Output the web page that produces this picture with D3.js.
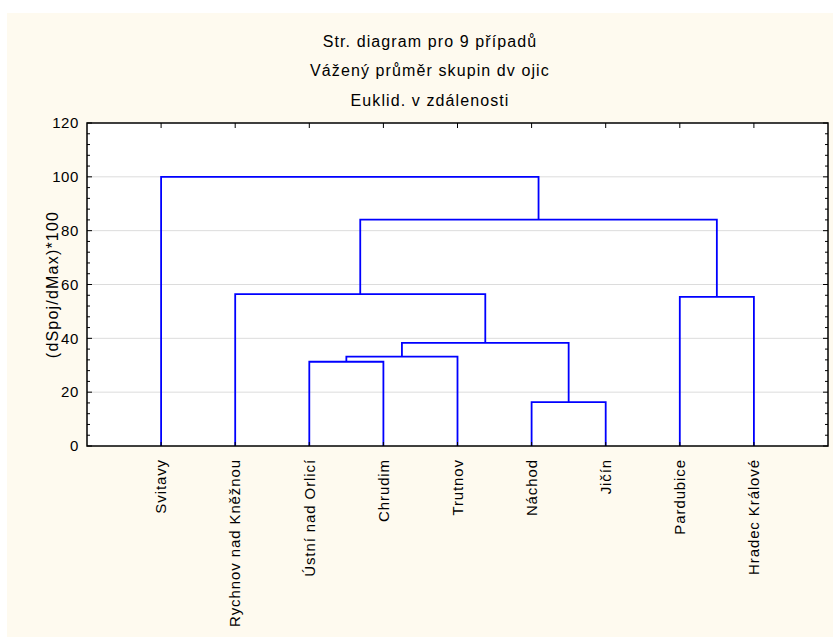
<!DOCTYPE html>
<meta charset="utf-8" />
<style>
  body { margin: 0; background: #fff; }
  text { font-family: "Liberation Sans", Arial, sans-serif; fill: #000; }
  .grid line { stroke: #dcdcdc; stroke-width: 1px; }
  .tree path { fill: none; stroke: #0000ff; stroke-width: 1.8px; }
  .ticks line { stroke: #000; stroke-width: 1px; }
</style>
<svg width="833" height="637"></svg>
<script src="https://d3js.org/d3.v7.min.js"></script>
<script>
  // leaves, in the order they appear on the x axis
  var leaves = ["Svitavy", "Rychnov nad Kněžnou", "Ústní  nad Orlicí", "Chrudim",
    "Trutnov", "Náchod", "Jičín", "Pardubice", "Hradec Králové"];

  // merge steps: node ids 0..8 are leaves, step i creates node 9+i
  var mergeLeft = [5, 2, 10, 11, 1, 7, 13, 0];
  var mergeRight = [6, 3, 4, 9, 12, 8, 14, 15];
  var mergeHeight = [16.3, 31.3, 33.2, 38.3, 56.4, 55.4, 84.1, 100];

  var yTicks = [0, 20, 40, 60, 80, 100, 120];
  var titles = ["Str. diagram pro 9 případů", "Vážený průměr skupin dv ojic", "Euklid. v zdálenosti"];
  var yLabel = "(dSpoj/dMax)*100";

  var svg = d3.select("svg");
  var pL = 87, pR = 828, pT = 123, pB = 446;

  svg.append("rect").attr("x", 7).attr("y", 13).attr("width", 826).attr("height", 624)
    .attr("fill", "#fefaef");

  var x = d3.scalePoint().domain(leaves).range([pL, pR]).padding(1);
  var y = d3.scaleLinear().domain([0, 120]).range([pB, pT]);

  svg.append("rect").attr("x", pL).attr("y", pT).attr("width", pR - pL)
    .attr("height", pB - pT).attr("fill", "#fff");

  // grid
  svg.append("g").attr("class", "grid").selectAll("line")
    .data(yTicks.filter(function (d) { return d > 0 && d < 120; }))
    .enter().append("line")
    .attr("x1", pL).attr("x2", pR)
    .attr("y1", function (d) { return y(d); })
    .attr("y2", function (d) { return y(d); });

  // dendrogram
  var posX = leaves.map(function (d) { return x(d); });
  var posY = leaves.map(function () { return 0; });
  var tree = svg.append("g").attr("class", "tree");
  mergeLeft.forEach(function (a, i) {
    var b = mergeRight[i], h = mergeHeight[i];
    tree.append("path").attr("d",
      "M" + posX[a] + "," + y(posY[a]) +
      "V" + y(h) + "H" + posX[b] + "V" + y(posY[b]));
    posX.push((posX[a] + posX[b]) / 2);
    posY.push(h);
  });

  // frame on top of marks
  svg.append("rect").attr("x", pL).attr("y", pT).attr("width", pR - pL)
    .attr("height", pB - pT).attr("fill", "none").attr("stroke", "#000").attr("stroke-width", 1.5);

  // ticks, pointing inside
  var ticks = svg.append("g").attr("class", "ticks");
  d3.range(0, 121, 4).forEach(function (v) {
    var len = v % 20 === 0 ? 5 : 3;
    ticks.append("line").attr("x1", pL).attr("x2", pL + len).attr("y1", y(v)).attr("y2", y(v));
    ticks.append("line").attr("x1", pR).attr("x2", pR - len).attr("y1", y(v)).attr("y2", y(v));
  });
  leaves.forEach(function (d) {
    ticks.append("line").attr("x1", x(d)).attr("x2", x(d)).attr("y1", pT).attr("y2", pT + 5);
    ticks.append("line").attr("x1", x(d)).attr("x2", x(d)).attr("y1", pB).attr("y2", pB - 4);
  });

  // y tick labels
  svg.append("g").selectAll("text").data(yTicks).enter().append("text")
    .attr("x", pL - 8).attr("y", function (d) { return y(d); })
    .attr("dy", "0.35em").attr("text-anchor", "end")
    .style("font-size", "15px").style("letter-spacing", "0.6px")
    .text(function (d) { return d; });

  // x labels
  svg.append("g").selectAll("text").data(leaves).enter().append("text")
    .attr("transform", function (d) { return "translate(" + x(d) + "," + (pB + 13) + ") rotate(-90)"; })
    .attr("dy", "0.35em").attr("text-anchor", "end")
    .style("font-size", "15px").style("letter-spacing", "0.9px")
    .text(function (d) { return d; });

  // titles
  svg.append("g").selectAll("text").data(titles).enter().append("text")
    .attr("x", 430).attr("y", function (d, i) { return 41 + i * 29.5; })
    .attr("dy", "0.35em").attr("text-anchor", "middle")
    .style("font-size", "16px").style("letter-spacing", "1.1px")
    .text(function (d) { return d; });

  svg.append("text")
    .attr("transform", "translate(52," + (pT + pB) / 2 + ") rotate(-90)")
    .attr("dy", "0.35em").attr("text-anchor", "middle")
    .style("font-size", "16px").style("letter-spacing", "1.2px")
    .text(yLabel);
</script>
